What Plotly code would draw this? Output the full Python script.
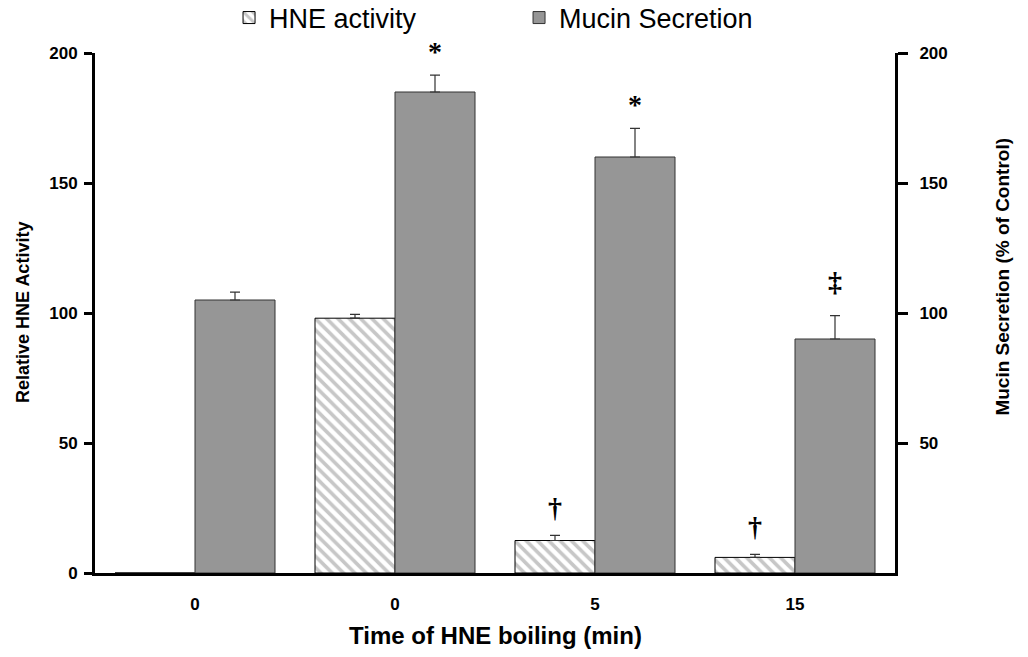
import plotly.graph_objects as go

# Data
groups = [0, 1, 2, 3]
tick_text = ["0", "0", "5", "15"]
hne_activity = [0, 98, 12.5, 6]
hne_err = [0, 1.5, 2, 1.2]
mucin = [105, 185, 160, 90]
mucin_err = [3, 6.5, 11, 9]
hne_marks = ["", "", "\u2020", "\u2020"]
mucin_marks = ["", "*", "*", "\u2021"]

BAR_W = 0.4
hne_x = [g - BAR_W / 2 for g in groups]
mucin_x = [g + BAR_W / 2 for g in groups]

SANS = "Arial, 'Liberation Sans', sans-serif"
SERIF = "'Liberation Serif', 'Times New Roman', serif"

fig = go.Figure()

fig.add_trace(go.Bar(
    x=hne_x, y=hne_activity, width=BAR_W, name="HNE activity",
    marker=dict(color="white",
                line=dict(color="black", width=1),
                pattern=dict(shape="\\", fgcolor="#8f8f8f", bgcolor="white",
                             size=8, solidity=0.45)),
    error_y=dict(type="data", array=hne_err, arrayminus=[0] * 4, symmetric=False,
                 color="#333333", thickness=1.2, width=5),
    legend="legend",
))

fig.add_trace(go.Bar(
    x=mucin_x, y=mucin, width=BAR_W, name="Mucin Secretion", yaxis="y2",
    marker=dict(color="#969696", line=dict(color="#333333", width=1)),
    error_y=dict(type="data", array=mucin_err, arrayminus=[0] * 4, symmetric=False,
                 color="#333333", thickness=1.2, width=5),
    legend="legend2",
))

# significance marks above the error bars (pixel lift per glyph)
lift = {"*": 24, "\u2020": 28, "\u2021": 34}
annotations = []
for xs, vals, errs, marks in ((hne_x, hne_activity, hne_err, hne_marks),
                              (mucin_x, mucin, mucin_err, mucin_marks)):
    for x, v, e, m in zip(xs, vals, errs, marks):
        if m:
            annotations.append(dict(
                x=x, y=v + e, xref="x", yref="y", text=m, showarrow=False,
                yanchor="middle", yshift=lift[m],
                font=dict(family=SERIF, size=28, color="#000000", weight="bold")))

# axis titles
annotations += [
    dict(text="<b>Relative HNE Activity</b>", xref="paper", yref="paper",
         x=-0.09, y=0.5, textangle=-90, showarrow=False,
         xanchor="center", yanchor="middle",
         font=dict(family=SANS, size=18, color="black")),
    dict(text="<b>Mucin Secretion (% of Control)</b>", xref="paper", yref="paper",
         x=1.135, y=0.57, textangle=-90, showarrow=False,
         xanchor="center", yanchor="middle",
         font=dict(family=SANS, size=19, color="black")),
    dict(text="<b>Time of HNE boiling (min)</b>", xref="paper", yref="paper",
         x=0.5, y=-0.121, showarrow=False, xanchor="center", yanchor="middle",
         font=dict(family=SANS, size=24, color="black")),
]

fig.update_layout(
    width=1028, height=657,
    margin=dict(l=95, r=133, t=53, b=84, autoexpand=False),
    paper_bgcolor="white", plot_bgcolor="white",
    barmode="overlay",
    font=dict(family=SANS, color="black"),
    xaxis=dict(
        range=[-0.5, 3.5], tickmode="array", tickvals=groups, ticktext=tick_text,
        showline=True, linecolor="black", linewidth=3, ticks="",
        showgrid=False, zeroline=False,
        tickfont=dict(size=17, family=SANS, weight="bold"),
        ticklabelstandoff=14,
    ),
    yaxis=dict(
        range=[0, 200], tickvals=[0, 50, 100, 150, 200],
        showline=True, linecolor="black", linewidth=3,
        ticks="outside", ticklen=8, tickwidth=3, tickcolor="black",
        showgrid=False, zeroline=False,
        tickfont=dict(size=17, family=SANS, weight="bold"),
        ticklabelstandoff=3,
    ),
    yaxis2=dict(
        range=[0, 200], tickvals=[50, 100, 150, 200], overlaying="y", side="right",
        showline=True, linecolor="black", linewidth=3,
        ticks="outside", ticklen=10, tickwidth=3, tickcolor="black",
        showgrid=False, zeroline=False,
        tickfont=dict(size=17, family=SANS, weight="bold"),
        ticklabelstandoff=8,
    ),
    legend=dict(x=0.2228, y=0.9726, xref="container", yref="container",
                xanchor="left", yanchor="middle", orientation="h",
                font=dict(size=27, family=SANS), bgcolor="rgba(0,0,0,0)"),
    legend2=dict(x=0.5049, y=0.9726, xref="container", yref="container",
                 xanchor="left", yanchor="middle", orientation="h",
                 font=dict(size=27, family=SANS), bgcolor="rgba(0,0,0,0)"),
    annotations=annotations,
    showlegend=True,
)

fig.write_html("out.html")
